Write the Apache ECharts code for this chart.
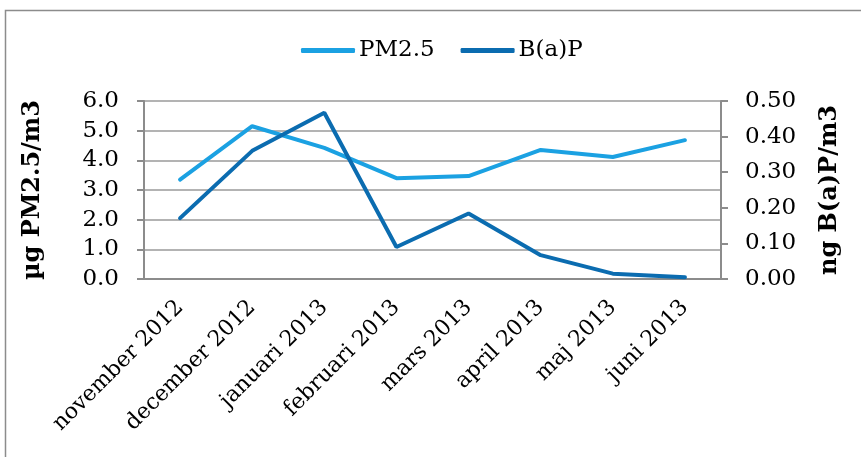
<!DOCTYPE html>
<html>
<head>
<meta charset="utf-8">
<script src="https://cdn.jsdelivr.net/npm/echarts@6/dist/echarts.min.js"></script>
<style>
  html, body { margin: 0; padding: 0; background: #fff; }
  #chart { width: 861px; height: 457px; }
</style>
</head>
<body>
<div id="chart"></div>
<script>
var months = ['november 2012', 'december 2012', 'januari 2013', 'februari 2013',
    'mars 2013', 'april 2013', 'maj 2013', 'juni 2013'];
var pm25 = [3.35, 5.15, 4.42, 3.40, 3.47, 4.35, 4.11, 4.68];
var bap = [0.171, 0.360, 0.467, 0.090, 0.184, 0.067, 0.015, 0.005];
var leftTicks = [0, 6, 1];
var rightTicks = [0, 0.5, 0.1];

var serif = 'DejaVu Serif';
var axisGray = '#8c8c8c';

var chart = echarts.init(document.getElementById('chart'));

var option = {
    backgroundColor: '#fff',
    animation: false,
    graphic: [{
        type: 'rect',
        shape: { x: 5.5, y: 10.5, width: 900, height: 500 },
        style: { fill: 'none', stroke: '#8c8c8c', lineWidth: 1.5 },
        silent: true
    }],
    legend: {
        top: 34,
        left: 296,
        itemWidth: 54,
        itemHeight: 5,
        itemGap: 26,
        icon: 'roundRect',
        textStyle: { fontFamily: serif, fontSize: 23, color: '#000', padding: [0, 0, 0, -1] },
        data: ['PM2.5', 'B(a)P']
    },
    grid: { left: 144, right: 140, top: 101, bottom: 178 },
    xAxis: {
        type: 'category',
        data: months,
        axisLine: { lineStyle: { color: axisGray, width: 2 } },
        axisTick: { length: 7, lineStyle: { color: axisGray, width: 2 } },
        axisLabel: {
            rotate: 45,
            margin: 25,
            interval: 0,
            fontFamily: serif,
            fontSize: 22,
            color: '#000'
        }
    },
    yAxis: [{
        type: 'value',
        min: leftTicks[0],
        max: leftTicks[1],
        interval: leftTicks[2],
        name: 'µg PM2.5/m3',
        nameLocation: 'middle',
        nameRotate: 90,
        nameGap: 99,
        nameTextStyle: { fontFamily: serif, fontWeight: 'bold', fontSize: 24, color: '#000' },
        axisLine: { show: true, lineStyle: { color: axisGray, width: 2 } },
        axisTick: { show: true, length: 7, lineStyle: { color: axisGray, width: 2 } },
        splitLine: { lineStyle: { color: '#9a9a9a', width: 1.5 } },
        axisLabel: {
            margin: 25,
            fontFamily: serif,
            fontSize: 23,
            color: '#000',
            formatter: function (v) { return v.toFixed(1); }
        }
    }, {
        type: 'value',
        position: 'right',
        min: rightTicks[0],
        max: rightTicks[1],
        interval: rightTicks[2],
        name: 'ng B(a)P/m3',
        nameLocation: 'middle',
        nameRotate: 90,
        nameGap: 97,
        nameTextStyle: { fontFamily: serif, fontWeight: 'bold', fontSize: 24, color: '#000' },
        axisLine: { show: true, lineStyle: { color: axisGray, width: 2 } },
        axisTick: { show: true, length: 7, lineStyle: { color: axisGray, width: 2 } },
        splitLine: { show: false },
        axisLabel: {
            margin: 24,
            fontFamily: serif,
            fontSize: 23,
            color: '#000',
            formatter: function (v) { return v.toFixed(2); }
        }
    }],
    series: [{
        name: 'PM2.5',
        type: 'line',
        yAxisIndex: 0,
        data: pm25,
        symbol: 'none',
        color: '#1ba1e2',
        lineStyle: { width: 4, color: '#1ba1e2', cap: 'round' }
    }, {
        name: 'B(a)P',
        type: 'line',
        yAxisIndex: 1,
        data: bap,
        symbol: 'none',
        color: '#0b6cb0',
        lineStyle: { width: 4, color: '#0b6cb0', cap: 'round' }
    }]
};

chart.setOption(option);
</script>
</body>
</html>
